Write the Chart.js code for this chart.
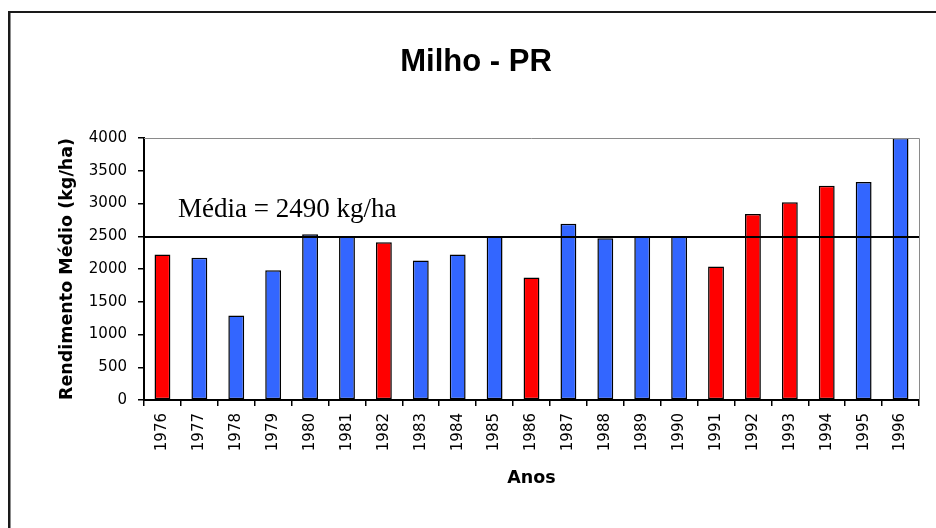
<!DOCTYPE html>
<html>
<head>
<meta charset="utf-8">
<script src="https://cdn.jsdelivr.net/npm/chart.js@4"></script>
<style>
  html, body { margin: 0; padding: 0; background: #fff; }
  #grafico { display: block; }
</style>
</head>
<body>
<canvas id="grafico" width="936" height="528"></canvas>
<script>
// anos e rendimento médio do milho no Paraná (kg/ha)
const anos = ['1976', '1977', '1978', '1979', '1980', '1981', '1982', '1983', '1984', '1985', '1986',
  '1987', '1988', '1989', '1990', '1991', '1992', '1993', '1994', '1995', '1996'];
const rendimento = [2220, 2170, 1290, 1980, 2530, 2500, 2410, 2130, 2220, 2500, 1870,
  2690, 2470, 2500, 2500, 2040, 2840, 3020, 3270, 3330, 4000];
// anos destacados em vermelho
const anosDestaque = ['1976', '1982', '1986', '1991', '1992', '1993', '1994'];
const media = 2490;
const yTicks = [0, 500, 1000, 1500, 2000, 2500, 3000, 3500, 4000];

const AZUL = '#3366ff';
const VERMELHO = '#ff0000';
const sans = 'DejaVu Sans, Verdana, sans-serif';

// moldura externa, borda cinza da área do gráfico, linha da média e texto
const decoracao = {
  id: 'decoracao',
  beforeDraw(chart) {
    const ctx = chart.ctx;
    ctx.save();
    ctx.fillStyle = '#1a1a1a';
    ctx.fillRect(8, 11, 2.5, chart.height - 11);
    ctx.fillRect(8, 11, chart.width - 8, 2);
    ctx.restore();
  },
  afterDatasetsDraw(chart) {
    const { ctx, chartArea: a, scales } = chart;
    ctx.save();
    ctx.strokeStyle = '#8a8a8a';
    ctx.lineWidth = 1;
    ctx.beginPath();
    ctx.moveTo(a.left, a.top + 0.5);
    ctx.lineTo(a.right + 0.5, a.top + 0.5);
    ctx.lineTo(a.right + 0.5, a.bottom);
    ctx.stroke();

    const y = scales.y.getPixelForValue(media);
    ctx.strokeStyle = '#000';
    ctx.lineWidth = 2;
    ctx.beginPath();
    ctx.moveTo(a.left, y);
    ctx.lineTo(a.right, y);
    ctx.stroke();

    ctx.fillStyle = '#000';
    ctx.font = '27px "Liberation Serif", "Times New Roman", serif';
    ctx.textAlign = 'left';
    ctx.textBaseline = 'alphabetic';
    ctx.fillText('Média = ' + media + ' kg/ha', a.left + 34, scales.y.getPixelForValue(2800));
    ctx.restore();
  }
};

new Chart(document.getElementById('grafico'), {
  type: 'bar',
  data: {
    labels: anos,
    datasets: [{
      data: rendimento,
      backgroundColor: anos.map(a => anosDestaque.includes(a) ? VERMELHO : AZUL),
      borderColor: '#000',
      borderWidth: 1.5,
      borderSkipped: false,
      barPercentage: 0.43,
      categoryPercentage: 1
    }]
  },
  options: {
    responsive: false,
    animation: false,
    devicePixelRatio: 1,
    layout: { padding: { left: 33, right: 17, top: 0, bottom: 0 } },
    plugins: {
      legend: { display: false },
      tooltip: { enabled: false },
      title: {
        display: true,
        text: 'Milho - PR',
        color: '#000',
        font: { family: '"Liberation Sans", Arial, sans-serif', size: 31, weight: 'bold' },
        padding: { top: 44, bottom: 56.8 }
      }
    },
    scales: {
      x: {
        afterFit(scale) { scale.height = 128; },
        grid: { drawOnChartArea: false, tickLength: 6, color: '#000', lineWidth: 1.5, offset: true },
        border: { color: '#000', width: 2 },
        ticks: {
          color: '#000',
          font: { family: sans, size: 15 },
          minRotation: 90,
          maxRotation: 90,
          autoSkip: false,
          padding: 7
        },
        title: {
          display: true,
          text: 'Anos',
          color: '#000',
          font: { family: sans, size: 17.5, weight: 'bold' },
          padding: { top: 0, bottom: 39 }
        }
      },
      y: {
        min: 0,
        max: 4000,
        afterFit(scale) { scale.width = 111; },
        afterBuildTicks(scale) { scale.ticks = yTicks.map(v => ({ value: v })); },
        grid: { drawOnChartArea: false, tickLength: 6, color: '#000', lineWidth: 1.5 },
        border: { color: '#000', width: 2 },
        ticks: {
          color: '#000',
          font: { family: sans, size: 15 },
          padding: 11,
          callback: v => String(v)
        },
        title: {
          display: true,
          text: 'Rendimento Médio (kg/ha)',
          color: '#000',
          font: { family: sans, size: 17.5, weight: 'bold' },
          padding: { top: 24, bottom: 0 }
        }
      }
    }
  },
  plugins: [decoracao]
});
</script>
</body>
</html>
